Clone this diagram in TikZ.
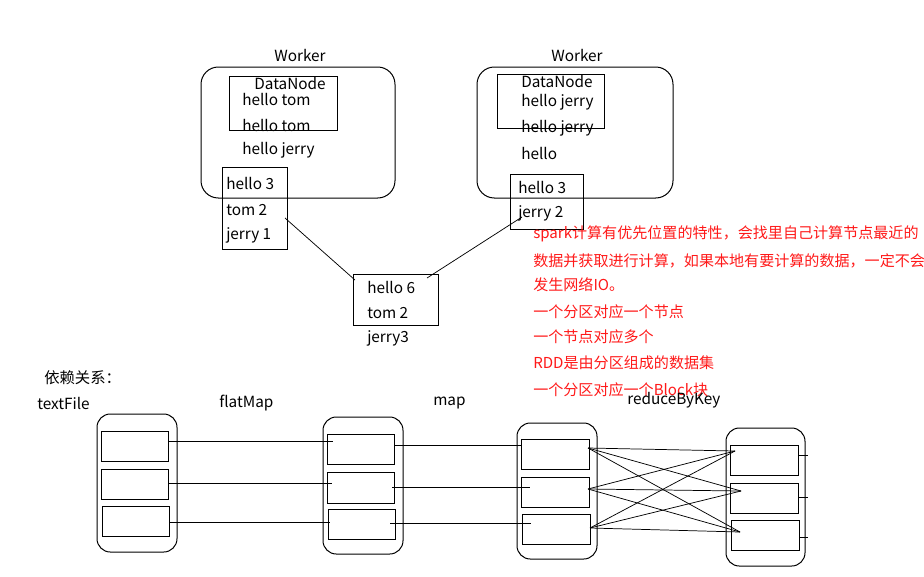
\documentclass[tikz,border=0pt]{standalone}
\usepackage{fontspec}
\setmainfont{Noto Sans CJK SC}
\definecolor{notered}{RGB}{255,25,25}
\begin{document}
\begin{tikzpicture}[x=0.75pt,y=-0.75pt,
  txt/.style={anchor=west, inner sep=0pt, font=\fontsize{11.5}{13}\selectfont},
  ctxt/.style={inner sep=0pt, font=\fontsize{11.5}{13}\selectfont},
  rtxt/.style={anchor=west, inner sep=0pt, font=\fontsize{11.3}{13}\selectfont, text=notered},
  box/.style 2 args={draw, line width=0.75pt, inner sep=0pt, minimum width=#1*0.75pt, minimum height=#2*0.75pt},
  rbox/.style 2 args={box={#1}{#2}, rounded corners=10pt},
  wbox/.style 2 args={box={#1}{#2}, rounded corners=13pt},
  link/.style={line width=0.75pt},
  thin/.style={line width=0.55pt}]
\useasboundingbox (0,0) rectangle (924,576);

% ---- Worker 1 ----
\node[wbox={194}{131}] (w1) at (298,132.5) {};
\node[ctxt] (w1l) at (300,55) {Worker};
\node[box={108}{54}] (dn1) at (283,103) {};
\node[ctxt] (dn1l) at (290,83) {DataNode};
\node[txt] (a1) at (242,99) {hello tom};
\node[txt] (a2) at (242,125) {hello tom};
\node[txt] (a3) at (242,150) {hello jerry};
\node[box={65}{82}] (s1) at (254.5,208) {};
\node[txt] (s1a) at (226,183) {hello 3};
\node[txt] (s1b) at (226,210) {tom 2};
\node[txt] (s1c) at (226,235) {jerry 1};

% ---- Worker 2 ----
\node[wbox={196}{131}] (w2) at (575,132.5) {};
\node[ctxt] (w2l) at (577,55) {Worker};
\node[box={107}{54}] (dn2) at (550.5,101) {};
\node[txt] (dn2l) at (521,81) {DataNode};
\node[txt] (b1) at (521,102) {hello jerry};
\node[txt] (b2) at (521,128) {hello jerry};
\node[txt] (b3) at (521,153) {hello};
\node[box={73}{55}] (s2) at (546.5,201.5) {};
\node[txt] (s2a) at (518,187) {hello 3};
\node[txt] (s2b) at (518,213) {jerry 2};

% ---- merged ----
\node[box={85}{51}] (m) at (395.5,299.5) {};
\node[txt] (ma) at (367,287) {hello 6};
\node[txt] (mb) at (367,313) {tom 2};
\node[txt] (mc) at (367,338) {jerry3};
\coordinate (c1) at (285,218);
\coordinate (c2) at (355,280);
\coordinate (c3) at (427,278);
\coordinate (c4) at (522,217);
\draw[thin] (c1) -- (c2);
\draw[thin] (c3) -- (c4);

% ---- red notes ----
\node[rtxt] (n1) at (533,234) {spark计算有优先位置的特性，会找里自己计算节点最近的};
\node[rtxt] (n2) at (533,261) {数据并获取进行计算，如果本地有要计算的数据，一定不会};
\node[rtxt] (n3) at (533,285) {发生网络IO。};
\node[rtxt] (n4) at (533,312) {一个分区对应一个节点};
\node[rtxt] (n5) at (533,337) {一个节点对应多个};
\node[rtxt] (n6) at (533,363) {RDD是由分区组成的数据集};
\node[rtxt] (n7) at (533,390) {一个分区对应一个Block块};

% ---- lineage ----
\node[txt] (dep) at (44,378) {依赖关系：};
\node[txt] (lt) at (37,403) {textFile};
\node[txt] (lf) at (219,403) {flatMap};
\node[txt] (lm) at (433,403) {map};
\node[txt] (lr) at (627,400) {reduceByKey};

\node[rbox={80}{138}] (T) at (137,483) {};
\node[box={67}{30}] (t1) at (134.5,446) {};
\node[box={67}{30}] (t2) at (134.5,484) {};
\node[box={67}{30}] (t3) at (135.5,521) {};

\node[rbox={80}{137}] (F) at (363,485.5) {};
\node[box={67}{30}] (f1) at (360.5,449) {};
\node[box={67}{31}] (f2) at (360.5,487.5) {};
\node[box={67}{30}] (f3) at (361.5,524) {};

\node[rbox={80}{136}] (M) at (557,491) {};
\node[box={68}{30}] (m1) at (555,454) {};
\node[box={68}{30}] (m2) at (555,492) {};
\node[box={68}{30}] (m3) at (556,529) {};

\node[rbox={79}{138}] (R) at (765.5,497) {};
\node[box={68}{30}] (r1) at (764,460) {};
\node[box={68}{30}] (r2) at (764,498) {};
\node[box={68}{30}] (r3) at (765,535) {};

% textFile -> flatMap
\coordinate (tf1) at (333,441);
\coordinate (tf2) at (332,483);
\coordinate (tf3) at (330,522);
\draw[link] (t1.east |- tf1) -- (tf1);
\draw[link] (t2.east |- tf2) -- (tf2);
\draw[link] (t3.east |- tf3) -- (tf3);

% flatMap -> map
\coordinate (fm1s) at (394,445);
\coordinate (fm2s) at (392,487);
\coordinate (fm3s) at (390,523);
\coordinate (fm2e) at (530,487);
\coordinate (fm3e) at (531,523);
\draw[link] (fm1s) -- (m1.west |- fm1s);
\draw[link] (fm2s) -- (fm2e);
\draw[link] (fm3s) -- (fm3e);

% map -> reduceByKey (shuffle)
\coordinate (L1) at (588,448);
\coordinate (L2) at (588,489);
\coordinate (L3) at (590,528);
\coordinate (R1) at (735,451);
\coordinate (R2) at (741,491);
\coordinate (R3) at (740,532);
\foreach \i in {1,2,3}{
  \foreach \j in {1,2,3}{
    \draw[thin] (L\i) -- (R\j);
  }
}

% reduceByKey outputs
\coordinate (o1) at (808,455);
\coordinate (o2) at (808,497);
\coordinate (o3) at (808,537);
\draw[link] (r1.east |- o1) -- (o1);
\draw[link] (r2.east |- o2) -- (o2);
\draw[link] (r3.east |- o3) -- (o3);
\end{tikzpicture}
\end{document}
